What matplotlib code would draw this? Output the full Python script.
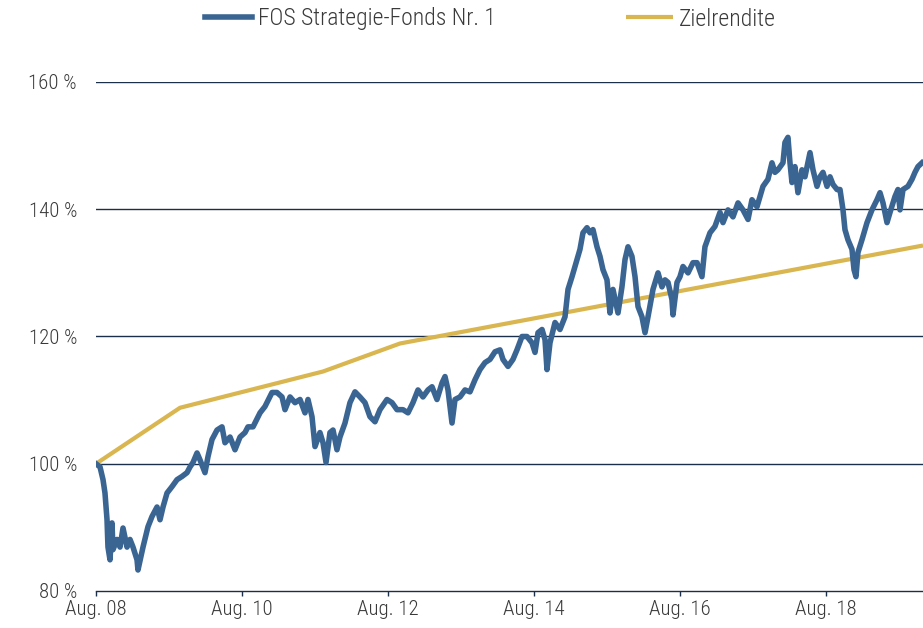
import matplotlib
matplotlib.use("Agg")
import matplotlib.pyplot as plt

# FOS Strategie-Fonds Nr. 1 (decimal year, index in %)
fund_year = [
    2008.583, 2008.638, 2008.679, 2008.706, 2008.734, 2008.747, 2008.775, 2008.802, 2008.816, 2008.871,
    2008.912, 2008.953, 2009.008, 2009.049, 2009.090, 2009.145, 2009.158, 2009.227, 2009.295, 2009.350,
    2009.419, 2009.460, 2009.501, 2009.556, 2009.624, 2009.693, 2009.761, 2009.830, 2009.871, 2009.912,
    2009.967, 2010.008, 2010.076, 2010.117, 2010.172, 2010.241, 2010.309, 2010.350, 2010.419, 2010.487,
    2010.556, 2010.624, 2010.665, 2010.734, 2010.830, 2010.898, 2010.994, 2011.062, 2011.131, 2011.172,
    2011.241, 2011.309, 2011.378, 2011.446, 2011.487, 2011.542, 2011.583, 2011.651, 2011.693, 2011.734,
    2011.788, 2011.830, 2011.884, 2011.925, 2011.994, 2012.062, 2012.131, 2012.199, 2012.268, 2012.336,
    2012.405, 2012.473, 2012.569, 2012.638, 2012.706, 2012.788, 2012.857, 2012.925, 2012.994, 2013.062,
    2013.131, 2013.186, 2013.254, 2013.323, 2013.364, 2013.405, 2013.460, 2013.501, 2013.569, 2013.638,
    2013.706, 2013.775, 2013.843, 2013.912, 2013.980, 2014.049, 2014.117, 2014.158, 2014.227, 2014.295,
    2014.350, 2014.419, 2014.487, 2014.556, 2014.597, 2014.638, 2014.693, 2014.734, 2014.761, 2014.802,
    2014.871, 2014.939, 2015.008, 2015.049, 2015.104, 2015.172, 2015.213, 2015.254, 2015.309, 2015.350,
    2015.391, 2015.446, 2015.487, 2015.528, 2015.583, 2015.624, 2015.665, 2015.734, 2015.788, 2015.830,
    2015.871, 2015.925, 2015.967, 2016.008, 2016.062, 2016.104, 2016.145, 2016.213, 2016.282, 2016.336,
    2016.378, 2016.419, 2016.473, 2016.487, 2016.542, 2016.583, 2016.624, 2016.693, 2016.761, 2016.816,
    2016.884, 2016.925, 2016.994, 2017.062, 2017.131, 2017.172, 2017.241, 2017.309, 2017.378, 2017.446,
    2017.515, 2017.569, 2017.638, 2017.679, 2017.720, 2017.788, 2017.843, 2017.884, 2017.925, 2017.994,
    2018.021, 2018.062, 2018.090, 2018.117, 2018.158, 2018.199, 2018.254, 2018.295, 2018.364, 2018.405,
    2018.460, 2018.501, 2018.542, 2018.597, 2018.638, 2018.679, 2018.734, 2018.775, 2018.816, 2018.843,
    2018.884, 2018.939, 2018.967, 2018.994, 2019.021, 2019.076, 2019.145, 2019.213, 2019.282, 2019.323,
    2019.364, 2019.419, 2019.460, 2019.528, 2019.569, 2019.597, 2019.638, 2019.706, 2019.761, 2019.802,
    2019.843, 2019.898,
]
fund_value = [
    100.0, 99.5, 97.5, 95.4, 91.2, 86.9, 84.9, 90.7, 86.5, 88.1,
    86.9, 89.9, 86.9, 88.1, 86.9, 84.9, 83.3, 86.9, 90.1, 91.7,
    93.2, 91.2, 93.2, 95.4, 96.4, 97.5, 98.0, 98.6, 99.5, 100.2,
    101.7, 100.6, 98.6, 101.1, 103.8, 105.3, 105.8, 103.3, 104.2, 102.2,
    104.2, 104.9, 105.8, 105.8, 108.0, 109.0, 111.2, 111.2, 110.5, 108.5,
    110.5, 109.6, 110.1, 108.0, 110.1, 107.4, 102.7, 104.9, 103.3, 100.2,
    104.9, 105.3, 102.2, 104.2, 106.4, 109.6, 111.3, 110.5, 109.6, 107.4,
    106.6, 108.5, 110.1, 109.6, 108.5, 108.5, 108.0, 109.6, 111.6, 110.5,
    111.6, 112.1, 110.1, 112.7, 113.7, 111.6, 106.4, 110.1, 110.5, 111.6,
    111.3, 113.2, 114.8, 115.9, 116.4, 117.6, 117.9, 116.4, 115.3, 116.4,
    117.9, 120.0, 120.0, 119.0, 117.5, 120.6, 121.1, 119.5, 114.8, 119.0,
    122.2, 121.1, 123.1, 127.4, 129.4, 132.1, 133.7, 136.3, 137.1, 136.3,
    136.8, 134.1, 132.6, 130.5, 128.9, 123.7, 127.4, 123.7, 127.8, 132.1,
    134.1, 132.6, 129.4, 124.7, 123.1, 120.6, 123.1, 127.4, 130.0, 127.8,
    128.9, 128.5, 125.8, 123.4, 128.5, 129.4, 131.0, 130.0, 131.6, 131.6,
    129.4, 134.1, 136.3, 137.3, 139.5, 137.9, 139.9, 138.8, 141.0, 139.9,
    138.4, 141.5, 140.4, 142.0, 143.6, 144.7, 147.3, 145.8, 146.2, 147.3,
    150.5, 151.3, 147.3, 144.2, 146.7, 142.6, 146.2, 145.1, 148.9, 146.2,
    143.6, 145.1, 145.8, 143.6, 145.1, 143.9, 143.1, 143.1, 139.9, 136.8,
    135.2, 133.7, 130.5, 129.4, 133.2, 135.2, 137.9, 139.9, 141.5, 142.6,
    141.0, 137.9, 139.5, 142.0, 143.1, 139.9, 143.1, 143.6, 144.7, 145.8,
    146.7, 147.3,
]

# Zielrendite
target_year = [2008.583, 2009.734, 2011.693, 2012.747, 2019.912]
target_value = [100.0, 108.8, 114.5, 118.9, 134.3]

x_ticks = [2008.583, 2010.583, 2012.583, 2014.583, 2016.583, 2018.583]
x_labels = ["Aug. 08", "Aug. 10", "Aug. 12", "Aug. 14", "Aug. 16", "Aug. 18"]
y_ticks = [80, 100, 120, 140, 160]
y_labels = ["80 %", "100 %", "120 %", "140 %", "160 %"]

blue = "#3a6593"
gold = "#d9b650"
navy = "#1c2f4a"
text_col = "#3a3a3a"

plt.rcParams["font.family"] = ["Roboto Condensed", "DejaVu Sans"]
plt.rcParams["font.weight"] = "light"

fig = plt.figure(figsize=(9.23, 6.28), dpi=100)
ax = fig.add_axes([96 / 923, 37 / 628, 1 - 96 / 923, 509 / 628])

for y in y_ticks[1:]:
    ax.axhline(y, color=navy, lw=1.0, zorder=1)

gold_line, = ax.plot(target_year, target_value, color=gold, lw=3.0, zorder=2,
                     solid_capstyle="butt")
blue_line, = ax.plot(fund_year, fund_value, color=blue, lw=4.0, zorder=3,
                     solid_joinstyle="round")

ax.set_xlim(2008.583, 2019.912)
ax.set_ylim(80, 160)
ax.set_xticks(x_ticks)
ax.set_xticklabels(x_labels)
ax.set_yticks(y_ticks)
ax.set_yticklabels(y_labels)

for s in ["top", "right", "left"]:
    ax.spines[s].set_visible(False)
ax.spines["bottom"].set_color(navy)
ax.spines["bottom"].set_linewidth(1.0)
ax.tick_params(axis="x", length=3.6, color=navy, width=1.0, pad=3, labelsize=15, labelcolor=text_col)
ax.tick_params(axis="y", length=0, pad=13.7, labelsize=15, labelcolor=text_col)

# two legend entries, each placed at its own position like the original
for handle, label, x0 in [(blue_line, "FOS Strategie-Fonds Nr. 1", 205), (gold_line, "Zielrendite", 626)]:
    leg = fig.legend([handle], [label], loc="center left", bbox_to_anchor=(x0 / 923, 1 - 19 / 628),
                     frameon=False, fontsize=17, handlelength=2.0, handletextpad=0.25,
                     borderaxespad=0, borderpad=0)
    for t in leg.get_texts():
        t.set_color(text_col)

fig.savefig("out.png", dpi=100)
